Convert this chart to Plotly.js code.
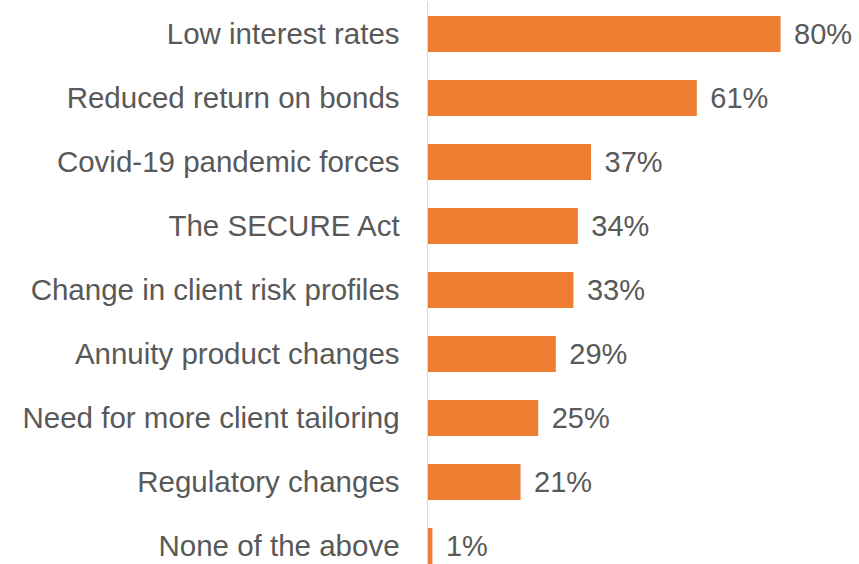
<!DOCTYPE html>
<html>
<head>
<meta charset="utf-8">
<script src="https://cdn.plot.ly/plotly-3.0.1.min.js"></script>
<style>html,body{margin:0;padding:0;background:#fff;}#chart{width:859px;height:564px;}</style>
</head>
<body>
<div id="chart"></div>
<script>
const categories = [
  "Low interest rates",
  "Reduced return on bonds",
  "Covid-19 pandemic forces",
  "The SECURE Act",
  "Change in client risk profiles",
  "Annuity product changes",
  "Need for more client tailoring",
  "Regulatory changes",
  "None of the above"
];
const values = [80, 61, 37, 34, 33, 29, 25, 21, 1];
const valueLabels = values.map(v => " \u200A" + v + "%");

const trace = {
  type: "bar",
  orientation: "h",
  y: categories,
  x: values,
  text: valueLabels,
  textposition: "outside",
  cliponaxis: false,
  textfont: {family: "Liberation Sans, Arial, sans-serif", size: 29, color: "#595959"},
  marker: {color: "#ED7D31"},
  hoverinfo: "none",
  width: 0.5625
};

const layout = {
  width: 859,
  height: 564,
  margin: {l: 428, r: 0, t: 2, b: 0},
  paper_bgcolor: "#fff",
  plot_bgcolor: "#fff",
  showlegend: false,
  xaxis: {
    range: [0, 97.8],
    showgrid: false,
    zeroline: false,
    showticklabels: false,
    showline: false,
    fixedrange: true
  },
  yaxis: {
    type: "category",
    range: [8.28, -0.5],
    showgrid: false,
    zeroline: false,
    showline: true,
    linecolor: "#D9D9D9",
    linewidth: 1.5,
    ticks: "",
    ticklabelstandoff: 21,
    tickfont: {family: "Liberation Sans, Arial, sans-serif", size: 29.5, color: "#595959"},
    fixedrange: true
  }
};

Plotly.newPlot("chart", [trace], layout, {staticPlot: true, displayModeBar: false});
</script>
</body>
</html>
